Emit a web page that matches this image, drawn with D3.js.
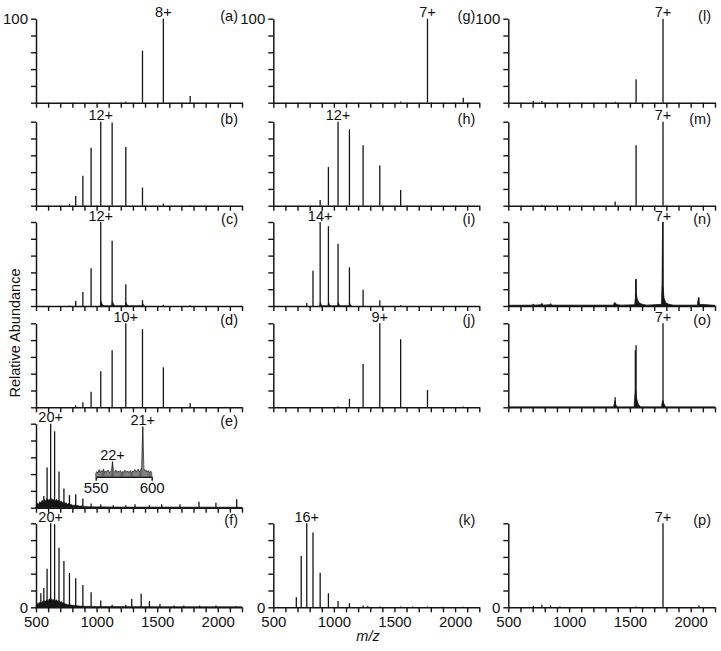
<!DOCTYPE html>
<html><head><meta charset="utf-8">
<script src="https://cdn.jsdelivr.net/npm/d3@7"></script>
<style>
body{margin:0;background:#fff}
svg{display:block}
text{font-family:"Liberation Sans",Arial,Helvetica,sans-serif;fill:#111}
</style>
</head><body>
<svg id="c" width="721" height="651"></svg>
<script>
// ---------- data (m/z, relative abundance %) ----------
const xTickValues = [500,600,700,800,900,1000,1100,1200,1300,1400,1500,1600,1700,1800,1900,2000,2100,2200];
const xTickLabels = [500,1000,1500,2000];
const yTickValues = [0,20,40,60,80,100];

const peaksA = [[1241,1.5],[1378.8,62],[1551,100],[1772.4,8]];
const labelsA = [[1551,100,"8+"]];

const peaksB = [[776,2],[827.7,11.6],[886.7,35.6],[954.8,69],[1034.3,100],[1128.3,99],[1241,70],[1378.8,21.6],[1551,2.5],[1772.4,0.8]];
const labelsB = [[1034.3,100,"12+"]];

const peaksC = [[776,0.5],[827.7,6],[886.7,16.7],[954.8,45],[1034.3,100],[1128.3,77.7],[1241,26],[1378.8,7],[1551,1.5],[1772.4,0.8]];
const labelsC = [[1034.3,100,"12+"]];
const profileC = [[1030,0],[1036,6],[1040,4],[1048,1.5],[1060,0],[1124,0],[1130,6],[1134,4],[1142,1.5],[1155,0],[1237,0],[1243,4],[1248,2.5],[1258,0],[1375,0],[1380,3],[1388,1],[1395,0]];

const peaksD = [[827.7,2],[886.7,6],[954.8,18.6],[1034.3,43],[1128.3,68],[1241,100],[1378.8,93],[1551,47.6],[1772.4,4.8],[2067.7,0.8]];
const labelsD = [[1241,100,"10+"]];

const peaksE = [[517.7,4],[540.1,6],[564.6,14],[591.5,48],[621,100],[653.6,91],[689.9,43],[730.4,23],[776,15],[827.7,16],[886.7,11],[954.8,5],[1034.3,4],[1137,3],[1241,3],[1317,4],[1436,3],[1537,4],[1688,4],[1845,7],[1985,6],[2156,10]];
const labelsE = [[621,100,"20+"]];
const bandE = [[500,2],[510,5],[520,4],[530,7],[540,6],[550,9],[560,7],[570,10],[580,8],[590,11],[600,9],[610,10],[620,8],[630,11],[640,9],[650,10],[660,8],[670,10],[680,8],[690,9],[700,7],[710,8],[720,6],[730,7],[740,5],[750,6],[760,4],[770,5],[780,3.5],[790,4],[800,3],[820,3],[840,2.5],[860,2],[880,2],[900,1.5],[950,1.2],[1000,1],[1200,0.8],[1500,0.8],[2200,0.6]];
// inset of (e): m/z 550-600
const insetE = [[550,6],[551,10],[552,7],[553,14],[554,8],[555,12],[556,9],[557,15],[558,8],[559,11],[560,9],[561,13],[562,8],[563,10],[564,12],[565,30],[566,11],[567,9],[568,13],[569,8],[570,11],[571,9],[572,12],[573,8],[574,10],[575,9],[576,13],[577,8],[578,11],[579,10],[580,9],[581,12],[582,8],[583,11],[584,10],[585,14],[586,9],[587,12],[588,15],[589,10],[590,13],[591,18],[592,100],[593,16],[594,11],[595,13],[596,9],[597,12],[598,8],[599,11],[600,9]];
const insetLabels = [[592,100,"21+"],[565,30,"22+"]];
const insetTicks = [550,600];

const peaksF = [[517.7,5.5],[540.1,16.7],[564.6,23],[591.5,46],[621,100],[653.6,99],[689.9,71],[730.4,55],[776,41],[827.7,34.5],[886.7,26.6],[954.8,18],[1034.3,8],[1128.3,3],[1241,3],[1290,10],[1368,16],[1436,7.5],[1523,4],[1640,2],[1720,2],[1850,2],[1985,2],[2150,1.5]];
const labelsF = [[621,100,"20+"]];
const bandF = [[500,2],[510,4],[520,3],[530,6],[540,5],[550,7],[560,6],[570,8],[580,7],[590,9],[600,8],[610,10],[620,9],[630,10],[640,8],[650,10],[660,8],[670,9],[680,7],[690,8],[700,6],[710,7],[720,5],[730,5],[740,4],[750,4],[760,3],[780,3],[800,2.5],[830,2],[860,1.5],[900,1.2],[1000,1],[1500,0.8],[2200,0.6]];

const peaksG = [[1551,1.5],[1772.4,100],[2067.7,6]];
const labelsG = [[1772.4,100,"7+"]];

const peaksH = [[886.7,6.7],[954.8,46],[1034.3,100],[1128.3,91],[1241,72],[1378.8,48],[1551,18.6]];
const labelsH = [[1034.3,100,"12+"]];

const peaksI = [[776,3.6],[827.7,42],[886.7,100],[954.8,95],[1034.3,74],[1128.3,46],[1241,19.4],[1378.8,6.7],[1551,1]];
const labelsI = [[886.7,100,"14+"]];
const profileI = [[884,0],[889,4],[894,2],[900,0],[952,0],[957,4],[962,2],[970,0],[1031,0],[1037,4],[1042,2],[1050,0],[1125,0],[1131,3],[1136,1.5],[1145,0]];

const peaksJ = [[1034.3,1],[1128.3,10],[1241,51.6],[1378.8,100],[1551,81],[1772.4,20.6],[2067.7,1]];
const labelsJ = [[1378.8,100,"9+"]];

const peaksK = [[689.9,12],[730.4,61],[776,100],[827.7,89],[886.7,41],[954.8,16.7],[1034.3,7.5],[1128.3,4.8],[1241,2],[1280,1.5],[1378.8,1],[1551,1],[1650,1],[1772.4,1],[1900,0.8],[2067.7,0.8]];
const labelsK = [[776,100,"16+"]];

const peaksL = [[706,2],[776,2],[1378.8,1],[1551,28],[1772.4,100]];
const labelsL = [[1772.4,100,"7+"]];

const peaksM = [[776,1],[1378.8,5],[1551,72],[1772.4,100]];
const labelsM = [[1772.4,100,"7+"]];

const peaksN = [[706,2],[776,3],[848,2],[1378.8,4],[1551,32],[1772.4,100],[2067.7,10]];
const labelsN = [[1772.4,100,"7+"]];
const profileN = [[500,0.8],[700,1],[706,2.5],[712,1],[770,1.5],[776,3],[782,1],[842,1.5],[848,3],[854,1],[1365,1],[1372,4],[1380,3],[1400,1.5],[1430,1],[1540,1.5],[1545,10],[1549,32],[1552,16],[1560,8],[1575,4],[1600,2],[1640,1],[1760,2],[1765,30],[1769,100],[1772,25],[1780,10],[1795,4],[1820,2],[1860,1],[2055,1],[2064,10],[2070,2],[2200,0.8]];

const peaksO = [[1378.8,12],[1545,68],[1551,74],[1772.4,100]];
const labelsO = [[1772.4,100,"7+"]];
const profileO = [[500,0.5],[1365,0.5],[1372,4],[1378,8],[1384,3],[1395,0.5],[1535,0.5],[1542,15],[1548,20],[1556,10],[1570,3],[1590,0.5],[1760,0.5],[1766,6],[1772,8],[1780,4],[1795,0.5],[2200,0.5]];

const peaksP = [[706,1.5],[776,3],[848,2],[925,1],[1551,1],[1772.4,100],[2067.7,2]];
const labelsP = [[1772.4,100,"7+"]];

// ---------- layout ----------
const svg = d3.select("#c");
const colX = [[36,242],[273.3,479.3],[508.3,715]];
const rowBase = [102.7,205.7,306,407.3,507.7,607.3];
const PH = 84;
const ink = "#151515";
const FONT = '"Liberation Sans",Arial,sans-serif';

const panels = [
  {id:"(a)",col:0,row:0,peaks:peaksA,labels:labelsA},
  {id:"(b)",col:0,row:1,peaks:peaksB,labels:labelsB},
  {id:"(c)",col:0,row:2,peaks:peaksC,labels:labelsC,profile:profileC},
  {id:"(d)",col:0,row:3,peaks:peaksD,labels:labelsD},
  {id:"(e)",col:0,row:4,peaks:peaksE,labels:labelsE,band:bandE,inset:true},
  {id:"(f)",col:0,row:5,peaks:peaksF,labels:labelsF,band:bandF},
  {id:"(g)",col:1,row:0,peaks:peaksG,labels:labelsG},
  {id:"(h)",col:1,row:1,peaks:peaksH,labels:labelsH},
  {id:"(i)",col:1,row:2,peaks:peaksI,labels:labelsI,profile:profileI},
  {id:"(j)",col:1,row:3,peaks:peaksJ,labels:labelsJ},
  {id:"(k)",col:1,row:5,peaks:peaksK,labels:labelsK},
  {id:"(l)",col:2,row:0,peaks:peaksL,labels:labelsL},
  {id:"(m)",col:2,row:1,peaks:peaksM,labels:labelsM},
  {id:"(n)",col:2,row:2,peaks:peaksN,labels:labelsN,profile:profileN},
  {id:"(o)",col:2,row:3,peaks:peaksO,labels:labelsO,profile:profileO},
  {id:"(p)",col:2,row:5,peaks:peaksP,labels:labelsP}
];

panels.forEach(p => {
  const [x0,x1] = colX[p.col];
  const yb = rowBase[p.row], yt = yb - PH;
  const x = d3.scaleLinear().domain([500,2200]).range([x0,x1]);
  const y = d3.scaleLinear().domain([0,100]).range([yb,yt]);
  const g = svg.append("g");

  if (p.band) {
    g.append("path").datum(p.band)
      .attr("d", d3.area().x(d=>x(d[0])).y0(yb).y1(d=>y(d[1])))
      .attr("fill", ink).attr("stroke", ink).attr("stroke-width", 0.6);
  }
  if (p.profile) {
    g.append("path").datum(p.profile)
      .attr("d", d3.area().x(d=>x(d[0])).y0(yb).y1(d=>y(d[1])))
      .attr("fill", ink).attr("stroke", ink).attr("stroke-width", 0.8);
  }
  g.selectAll("line.pk").data(p.peaks).join("line").attr("class","pk")
    .attr("x1", d=>x(d[0])).attr("x2", d=>x(d[0]))
    .attr("y1", yb).attr("y2", d=>y(d[1]))
    .attr("stroke", ink).attr("stroke-width", 1.3);

  // x axis
  const bottom = p.row === 5;
  const xa = d3.axisBottom(x).tickValues(xTickValues).tickSize(5).tickSizeOuter(0)
    .tickFormat(d => bottom && xTickLabels.includes(d) ? String(d) : "");
  const gx = g.append("g").attr("transform", `translate(0,${yb})`).call(xa);
  gx.select(".domain").attr("stroke", ink).attr("stroke-width", 1.5);
  gx.selectAll(".tick line").attr("stroke", ink).attr("stroke-width", 1.4);
  gx.selectAll(".tick text").attr("font-size", 15).attr("dy", "0.8em").attr("fill", ink)
    .style("font-family", FONT);

  // y axis
  const ya = d3.axisLeft(y).tickValues(yTickValues).tickSize(5).tickSizeOuter(0)
    .tickFormat(d => (p.row === 0 && d === 100) ? "100" : (p.row === 5 && d === 0 ? "0" : ""));
  const gy = g.append("g").attr("transform", `translate(${x0},0)`).call(ya);
  gy.select(".domain").attr("stroke", ink).attr("stroke-width", 1.5);
  gy.selectAll(".tick line").attr("stroke", ink).attr("stroke-width", 1.4);
  gy.selectAll(".tick text").attr("font-size", 15).attr("fill", ink).attr("x", -8)
    .style("font-family", FONT);

  // peak labels
  g.selectAll("text.pl").data(p.labels).join("text").attr("class","pl")
    .attr("x", d=>x(d[0])).attr("y", d=>y(d[1]) - 1.5)
    .attr("text-anchor","middle").attr("font-size", 14.5).text(d=>d[2]);

  // panel id
  g.append("text").attr("x", x1 - 4).attr("y", yt + 2)
    .attr("text-anchor","end").attr("font-size", 14.5).text(p.id);

  if (p.inset) {
    const ix = d3.scaleLinear().domain([550,600]).range([95.7,151.7]);
    const iy = d3.scaleLinear().domain([0,100]).range([476.7,426.7]);
    const gi = g.append("g");
    gi.selectAll("line").data(insetE).join("line")
      .attr("x1", d=>ix(d[0])).attr("x2", d=>ix(d[0]))
      .attr("y1", iy(0)).attr("y2", d=>iy(d[1]))
      .attr("stroke", ink).attr("stroke-width", 0.7);
    gi.append("path").datum(insetE)
      .attr("d", d3.line().x(d=>ix(d[0])).y(d=>iy(d[1])))
      .attr("fill","none").attr("stroke", ink).attr("stroke-width", 0.7);
    const ia = d3.axisBottom(ix).tickValues(insetTicks).tickSize(4).tickSizeOuter(0).tickFormat(d=>String(d));
    const gia = gi.append("g").attr("transform", `translate(0,${iy(0)})`).call(ia);
    gia.select(".domain").attr("stroke", ink).attr("stroke-width", 1.5);
    gia.selectAll(".tick line").attr("stroke", ink).attr("stroke-width", 1.4);
    gia.selectAll(".tick text").attr("font-size", 15).attr("dy","0.6em").attr("fill", ink)
      .style("font-family", FONT);
    gi.selectAll("text.il").data(insetLabels).join("text").attr("class","il")
      .attr("x", d=>ix(d[0])).attr("y", d=>iy(d[1]) - 1.5)
      .attr("text-anchor","middle").attr("font-size", 14.5).text(d=>d[2]);
  }
});

// axis titles
svg.append("text").attr("transform","translate(19.5,333) rotate(-90)")
  .attr("text-anchor","middle").attr("font-size",14.5).text("Relative Abundance");
svg.append("text").attr("x",368).attr("y",641).attr("text-anchor","middle")
  .attr("font-size",14.5).attr("font-style","italic").text("m/z");
</script>
</body></html>
